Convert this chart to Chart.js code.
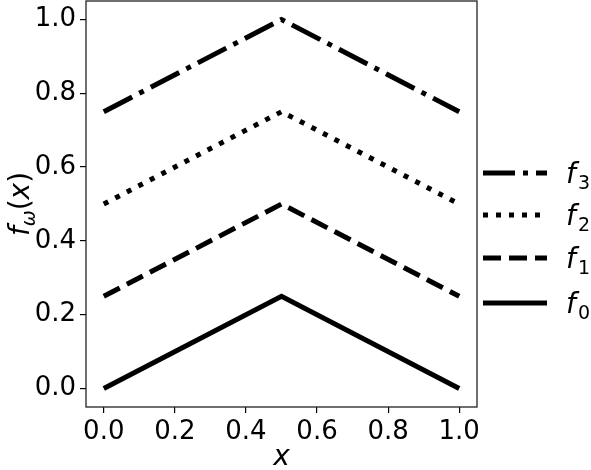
<!DOCTYPE html>
<html>
<head>
<meta charset="utf-8">
<script src="https://cdn.jsdelivr.net/npm/chart.js@4"></script>
<style>
  html, body { margin: 0; padding: 0; background: #fff; }
  #wrap { width: 591px; height: 470px; }
</style>
</head>
<body>
<div id="wrap"><canvas id="c"></canvas></div>
<script>
// data
const xs = [0, 0.5, 1];
const f0 = [0, 0.25, 0];
const f1 = [0.25, 0.5, 0.25];
const f2 = [0.5, 0.75, 0.5];
const f3 = [0.75, 1.0, 0.75];
const seriesNames = ['0', '1', '2', '3'];
const xTicks = [0, 0.2, 0.4, 0.6, 0.8, 1.0];
const yTicks = [0, 0.2, 0.4, 0.6, 0.8, 1.0];

const FONT = '"DejaVu Sans", sans-serif';
const pts = ys => xs.map((x, i) => ({ x: x, y: ys[i] }));

// line styles (matplotlib-ish dash patterns at lw 5)
const dashes = [[], [18, 8], [5, 8], [32, 8, 5, 8]];
const datasets = [f0, f1, f2, f3].map((ys, i) => ({
  label: 'f' + seriesNames[i],
  data: pts(ys),
  borderColor: '#000',
  borderWidth: 5,
  borderDash: dashes[i],
  borderCapStyle: 'butt',
  pointRadius: 0,
  fill: false,
  tension: 0
}));

// draws text pieces [text, size, italic, dy] left to right, centered at cx
function drawPieces(ctx, pieces, cx, baseY) {
  let w = 0;
  pieces.forEach(p => {
    ctx.font = (p[2] ? 'italic ' : '') + p[1] + 'px ' + FONT;
    w += ctx.measureText(p[0]).width;
  });
  let x = cx - w / 2;
  pieces.forEach(p => {
    ctx.font = (p[2] ? 'italic ' : '') + p[1] + 'px ' + FONT;
    ctx.fillText(p[0], x, baseY + p[3]);
    x += ctx.measureText(p[0]).width;
  });
}

const decor = {
  id: 'decor',
  afterDraw(chart) {
    const ctx = chart.ctx;
    const a = chart.chartArea;
    ctx.save();
    // frame
    ctx.strokeStyle = '#222';
    ctx.lineWidth = 1.3;
    ctx.strokeRect(a.left, a.top, a.right - a.left, a.bottom - a.top);

    ctx.fillStyle = '#000';
    ctx.textAlign = 'left';
    ctx.textBaseline = 'alphabetic';
    // x axis title
    drawPieces(ctx, [['x', 28, true, 0]], (a.left + a.right) / 2, 465);
    // y axis title
    ctx.save();
    ctx.translate(29, (a.top + a.bottom) / 2);
    ctx.rotate(-Math.PI / 2);
    drawPieces(ctx, [['f', 28, true, 0], ['ω', 19, true, 6], ['(', 28, false, 0], ['x', 28, true, 0], [')', 28, false, 0]], 0, 0);
    ctx.restore();

    // legend, outside right, top entry is the last series
    const rowY = [303, 258, 215, 173];
    chart.data.datasets.forEach((ds, i) => {
      const y = rowY[i];
      ctx.save();
      ctx.strokeStyle = ds.borderColor;
      ctx.lineWidth = ds.borderWidth;
      ctx.lineCap = 'butt';
      ctx.setLineDash(ds.borderDash);
      ctx.beginPath();
      ctx.moveTo(483, y);
      ctx.lineTo(547, y);
      ctx.stroke();
      ctx.restore();
      ctx.font = 'italic 28px ' + FONT;
      ctx.fillText(ds.label[0], 566, y + 10);
      ctx.font = '19px ' + FONT;
      ctx.fillText(ds.label.slice(1), 578, y + 16);
    });
    ctx.restore();
  }
};

const tickOpts = { font: { size: 26, family: FONT }, color: '#000', padding: 4 };

new Chart(document.getElementById('c'), {
  type: 'line',
  data: { datasets: datasets },
  options: {
    responsive: true,
    maintainAspectRatio: false,
    animation: false,
    layout: { padding: { top: 1, right: 114, left: 0, bottom: 0 } },
    plugins: { legend: { display: false }, tooltip: { enabled: false } },
    scales: {
      x: {
        type: 'linear',
        min: -0.05, max: 1.05,
        grid: { drawOnChartArea: false, drawTicks: true, tickLength: 6, color: '#000', lineWidth: 1.2 },
        border: { display: false },
        ticks: { ...tickOpts, callback: v => v.toFixed(1), maxRotation: 0 },
        afterBuildTicks: ax => { ax.ticks = xTicks.map(v => ({ value: v })); },
        afterFit: ax => { ax.height = 63; ax.paddingLeft = 0; ax.paddingRight = 0; }
      },
      y: {
        type: 'linear',
        min: -0.05, max: 1.05,
        grid: { drawOnChartArea: false, drawTicks: true, tickLength: 6, color: '#000', lineWidth: 1.2 },
        border: { display: false },
        ticks: { ...tickOpts, callback: v => v.toFixed(1) },
        afterBuildTicks: ax => { ax.ticks = yTicks.map(v => ({ value: v })); },
        afterFit: ax => { ax.width = 86; ax.paddingTop = 0; ax.paddingBottom = 0; }
      }
    }
  },
  plugins: [decor]
});
</script>
</body>
</html>
